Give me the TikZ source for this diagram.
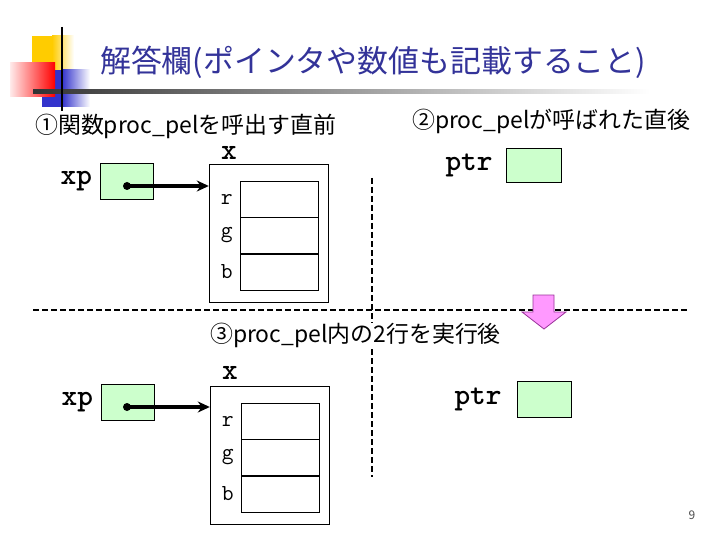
\documentclass[tikz,border=0pt]{standalone}
\usepackage{fontspec}
\setmainfont{Noto Sans CJK JP}
\usetikzlibrary{arrows.meta,positioning}

\definecolor{cellgreen}{HTML}{CCFFCC}
\definecolor{titleblue}{HTML}{333399}
\definecolor{arrowpink}{HTML}{FF99FF}
\definecolor{arrowedge}{HTML}{993399}
\definecolor{decoyellow}{HTML}{FFCC00}
\definecolor{decoblue}{HTML}{3333CC}

\begin{document}
\begin{tikzpicture}[x=1bp, y=-1bp,
    ptrbox/.style={draw, fill=cellgreen, minimum width=53bp, minimum height=36bp, inner sep=0pt},
    cell/.style={draw, minimum width=78bp, minimum height=36bp, inner sep=0pt},
    structbox/.style={draw, minimum width=119bp, minimum height=138bp, inner sep=0pt},
    varname/.style={font=\ttfamily\bfseries\fontsize{30}{30}\selectfont, inner sep=0pt},
    member/.style={font=\ttfamily\fontsize{23}{24}\selectfont, inner sep=0pt},
    heading/.style={font=\fontsize{23}{26}\selectfont, inner sep=0pt, anchor=west},
    ptrline/.style={line width=3.5bp, -{Stealth[length=12bp,width=11bp]}},
    divider/.style={line width=1.1bp, dash pattern=on 6bp off 3bp}
]

    \useasboundingbox (0,0) rectangle (720,540);

    % title decoration
    \fill[decoyellow] (32,36) rectangle (52,70);
    \shade[left color=decoyellow, right color=white] (52,36) rectangle (74,70);
    \fill[decoblue] (42,70) rectangle (62,107);
    \shade[left color=decoblue, right color=white] (62,70) rectangle (90,107);
    \shade[left color=red!8, right color=red] (10,63) rectangle (55,97);
    \shade[left color=black!80, right color=white] (33,90) rectangle (650,94);
    \draw[line width=2.5bp] (62,27) -- (62,111);

    % title
    \node[font=\fontsize{31}{36}\selectfont, text=titleblue, anchor=west, inner sep=0pt] (title) at (100,62) {解答欄(ポインタや数値も記載すること)};

    % (1) before the call
    \node[heading] (head1) at (35,126) {①関数proc\_pelを呼出す直前};

    \node[ptrbox] (xp1) at (127,181) {};
    \node[varname, left=8bp of xp1] (xpname1) {xp};
    \node[structbox] (x1) at (268.5,233) {};
    \node[varname] (xname1) at (229,153) {x};
    \node[cell] (r1) at (279,199) {};
    \node[cell, below=0pt of r1] (g1) {};
    \node[cell, below=0pt of g1] (b1) {};
    \node[member, left=7bp of r1] (rname1) {r};
    \node[member, left=7bp of g1] (gname1) {g};
    \node[member, left=7bp of b1] (bname1) {b};

    \coordinate (dot1) at (127,186);
    \fill (dot1) circle (4bp);
    \draw[ptrline] (dot1) -- (dot1 -| x1.west);

    % (2) right after proc_pel is called
    \node[heading] (head2) at (412,121) {②proc\_pelが呼ばれた直後};
    \node[ptrbox, minimum width=55bp, minimum height=34bp] (ptr1) at (533.5,165) {};
    \node[varname, left=13bp of ptr1] (ptrname1) {ptr};

    % dividers
    \draw[divider] (33,310) -- (690,310);
    \draw[divider] (372,178) -- (372,477);

    % down arrow
    \draw[fill=arrowpink, draw=arrowedge, line width=0.8bp] (533,295) -- (554,295) -- (554,312) -- (566,312) -- (544,329) -- (522,312) -- (533,312) -- cycle;

    % (3) after the two lines
    \node[heading, fill=white] (head3) at (210,335) {③proc\_pel内の2行を実行後};

\begin{scope}[shift={(1,221)}]
    \node[ptrbox] (xp2) at (127,181) {};
    \node[varname, left=8bp of xp2] (xpname2) {xp};
    \node[structbox] (x2) at (268.5,234) {};
    \node[varname] (xname2) at (229,152) {x};
    \node[cell] (r2) at (279,200) {};
    \node[cell, below=0pt of r2] (g2) {};
    \node[cell, below=0pt of g2] (b2) {};
    \node[member, left=7bp of r2] (rname2) {r};
    \node[member, left=7bp of g2] (gname2) {g};
    \node[member, left=7bp of b2] (bname2) {b};

    \coordinate (dot2) at (126,186);
    \fill (dot2) circle (4bp);
    \draw[ptrline] (dot2) -- (dot2 -| x2.west);
\end{scope}

    \node[ptrbox, minimum width=54bp] (ptr2) at (544,399) {};
    \node[varname, left=15bp of ptr2] (ptrname2) {ptr};

    % page number
    \node[font=\fontsize{12}{14}\selectfont, text=black!70] (pagenum) at (692,515) {9};

\end{tikzpicture}
\end{document}
